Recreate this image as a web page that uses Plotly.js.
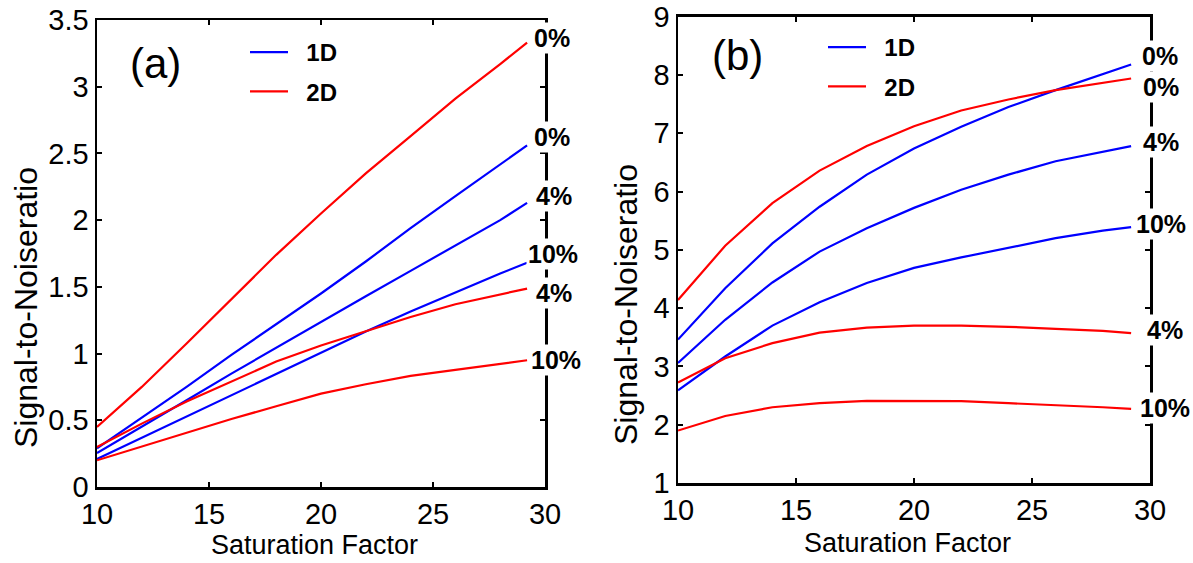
<!DOCTYPE html>
<html>
<head>
<meta charset="utf-8">
<script src="https://cdn.plot.ly/plotly-3.0.1.min.js"></script>
<style>html,body{margin:0;padding:0;background:#fff;}#chart{width:1193px;height:563px;}</style>
</head>
<body>
<div id="chart"></div>
<script>
// Saturation factor (x) values
const satFactor = [10, 12, 14, 16, 18, 20, 22, 24, 26, 28, 29.2];

// Panel (a) series
const a_1D_0  = [0.29, 0.52, 0.75, 0.99, 1.22, 1.45, 1.69, 1.94, 2.18, 2.42, 2.56];
const a_1D_4  = [0.255, 0.45, 0.65, 0.85, 1.045, 1.24, 1.43, 1.62, 1.81, 2.00, 2.13];
const a_1D_10 = [0.21, 0.37, 0.53, 0.69, 0.85, 1.01, 1.165, 1.315, 1.46, 1.60, 1.68];
const a_2D_0  = [0.45, 0.75, 1.075, 1.41, 1.74, 2.05, 2.35, 2.63, 2.91, 3.17, 3.33];
const a_2D_4  = [0.30, 0.475, 0.64, 0.79, 0.94, 1.06, 1.167, 1.274, 1.37, 1.44, 1.487];
const a_2D_10 = [0.20, 0.305, 0.41, 0.51, 0.605, 0.70, 0.77, 0.833, 0.878, 0.92, 0.95];

// Panel (b) series
const b_1D_0  = [3.46, 4.34, 5.11, 5.74, 6.29, 6.74, 7.11, 7.45, 7.74, 8.01, 8.18];
const b_1D_4  = [3.06, 3.80, 4.44, 4.97, 5.37, 5.72, 6.03, 6.29, 6.52, 6.68, 6.78];
const b_1D_10 = [2.59, 3.17, 3.70, 4.10, 4.43, 4.69, 4.87, 5.04, 5.20, 5.33, 5.39];
const b_2D_0  = [4.14, 5.07, 5.80, 6.36, 6.78, 7.12, 7.39, 7.58, 7.74, 7.87, 7.94];
const b_2D_4  = [2.725, 3.14, 3.40, 3.58, 3.665, 3.70, 3.70, 3.68, 3.645, 3.61, 3.57];
const b_2D_10 = [1.90, 2.15, 2.30, 2.37, 2.41, 2.41, 2.405, 2.37, 2.34, 2.30, 2.27];

// Labels
const seriesNames = ['1D', '2D'];
const levelLabels = ['0%', '4%', '10%'];
const panelLabels = ['(a)', '(b)'];
const xTickVals = [10, 15, 20, 25, 30];
const xTitle = 'Saturation Factor';
const yTitle = 'Signal-to-Noiseratio';

const BLUE = '#0000ff', RED = '#ff0000';
const FONT = 'Liberation Sans, Arial, Helvetica, sans-serif';

function tr(y, color, xa, ya, name, show, lg) {
  return {x: satFactor, y: y, type: 'scatter', mode: 'lines',
    line: {color: color, width: 2.2}, xaxis: xa, yaxis: ya,
    name: '&nbsp;&nbsp;' + name, showlegend: show, legend: lg, legendgroup: name + lg};
}

const data = [
  tr(a_1D_0, BLUE, 'x', 'y', seriesNames[0], true, 'legend'),
  tr(a_2D_0, RED, 'x', 'y', seriesNames[1], true, 'legend'),
  tr(a_1D_4, BLUE, 'x', 'y', seriesNames[0], false, 'legend'),
  tr(a_1D_10, BLUE, 'x', 'y', seriesNames[0], false, 'legend'),
  tr(a_2D_4, RED, 'x', 'y', seriesNames[1], false, 'legend'),
  tr(a_2D_10, RED, 'x', 'y', seriesNames[1], false, 'legend'),
  tr(b_1D_0, BLUE, 'x2', 'y2', seriesNames[0], true, 'legend2'),
  tr(b_2D_0, RED, 'x2', 'y2', seriesNames[1], true, 'legend2'),
  tr(b_1D_4, BLUE, 'x2', 'y2', seriesNames[0], false, 'legend2'),
  tr(b_1D_10, BLUE, 'x2', 'y2', seriesNames[0], false, 'legend2'),
  tr(b_2D_4, RED, 'x2', 'y2', seriesNames[1], false, 'legend2'),
  tr(b_2D_10, RED, 'x2', 'y2', seriesNames[1], false, 'legend2')
];

const last = satFactor.length - 1;
function endLabel(series, text, xa, ya, xs, ys) {
  return {x: satFactor[last], y: series[last], xref: xa, yref: ya, text: '<b>' + text + '</b>',
    showarrow: false, xanchor: 'center', yanchor: 'middle', xshift: xs, yshift: ys,
    bgcolor: '#ffffff', borderpad: 1,
    font: {family: FONT, size: 25, color: '#000'}};
}

function textAnn(text, px, py, size, angle) {
  return {x: px / 1193, y: 1 - py / 563, xref: 'paper', yref: 'paper', text: text, showarrow: false,
    xanchor: 'center', yanchor: 'middle', textangle: angle || 0,
    font: {family: FONT, size: size, color: '#000'}};
}

const annotations = [
  endLabel(a_2D_0, levelLabels[0], 'x', 'y', 25, 5),
  endLabel(a_1D_0, levelLabels[0], 'x', 'y', 25, 8),
  endLabel(a_1D_4, levelLabels[1], 'x', 'y', 27, 7),
  endLabel(a_1D_10, levelLabels[2], 'x', 'y', 26, 9),
  endLabel(a_2D_4, levelLabels[1], 'x', 'y', 27, -4),
  endLabel(a_2D_10, levelLabels[2], 'x', 'y', 29, 0),
  endLabel(b_1D_0, levelLabels[0], 'x2', 'y2', 29, 9),
  endLabel(b_2D_0, levelLabels[0], 'x2', 'y2', 30, -9),
  endLabel(b_1D_4, levelLabels[1], 'x2', 'y2', 30, 4),
  endLabel(b_1D_10, levelLabels[2], 'x2', 'y2', 30, 3),
  endLabel(b_2D_4, levelLabels[1], 'x2', 'y2', 34, 3),
  endLabel(b_2D_10, levelLabels[2], 'x2', 'y2', 34, 1),
  textAnn(panelLabels[0], 155, 64, 42),
  textAnn(panelLabels[1], 737, 55, 42),
  textAnn(xTitle, 315, 545, 27),
  textAnn(xTitle, 907, 543, 27),
  textAnn(yTitle, 26, 308, 32, -90),
  textAnn(yTitle, 626, 305, 32, -90)
];

function xax(domain, anchor) {
  return {domain: domain, anchor: anchor, range: [10, 30], tickvals: xTickVals,
    ticks: 'inside', ticklen: 5, tickwidth: 2, tickcolor: '#000',
    showline: true, linewidth: 2.5, linecolor: '#000', mirror: 'ticks',
    showgrid: false, zeroline: false,
    tickfont: {family: FONT, size: 29, color: '#000'}};
}
function yax(domain, anchor, range, dtick) {
  return {domain: domain, anchor: anchor, range: range, tick0: range[0], dtick: dtick,
    ticks: 'inside', ticklen: 5, tickwidth: 2, tickcolor: '#000',
    showline: true, linewidth: 2.5, linecolor: '#000', mirror: 'ticks',
    showgrid: false, zeroline: false,
    tickfont: {family: FONT, size: 29, color: '#000'}};
}

const legendBase = {xanchor: 'left', yanchor: 'top', bgcolor: 'rgba(0,0,0,0)', borderwidth: 0,
  itemwidth: 38, tracegroupgap: 5, font: {family: FONT, size: 24, color: '#000', weight: 'bold'}};

const layout = {
  width: 1193, height: 563,
  margin: {l: 0, r: 0, t: 0, b: 0},
  paper_bgcolor: '#fff', plot_bgcolor: '#fff',
  font: {family: FONT, color: '#000'},
  xaxis: xax([97 / 1193, 545 / 1193], 'y'),
  yaxis: yax([76 / 563, 543 / 563], 'x', [0, 3.5], 0.5),
  xaxis2: xax([678 / 1193, 1150 / 1193], 'y2'),
  yaxis2: yax([80 / 563, 546.3 / 563], 'x2', [1, 9], 1),
  legend: Object.assign({x: 245 / 1193, y: 1 - 30 / 563}, legendBase),
  legend2: Object.assign({x: 823 / 1193, y: 1 - 25 / 563}, legendBase),
  annotations: annotations,
  showlegend: true
};

Plotly.newPlot('chart', data, layout, {displayModeBar: false, staticPlot: true});
</script>
</body>
</html>
